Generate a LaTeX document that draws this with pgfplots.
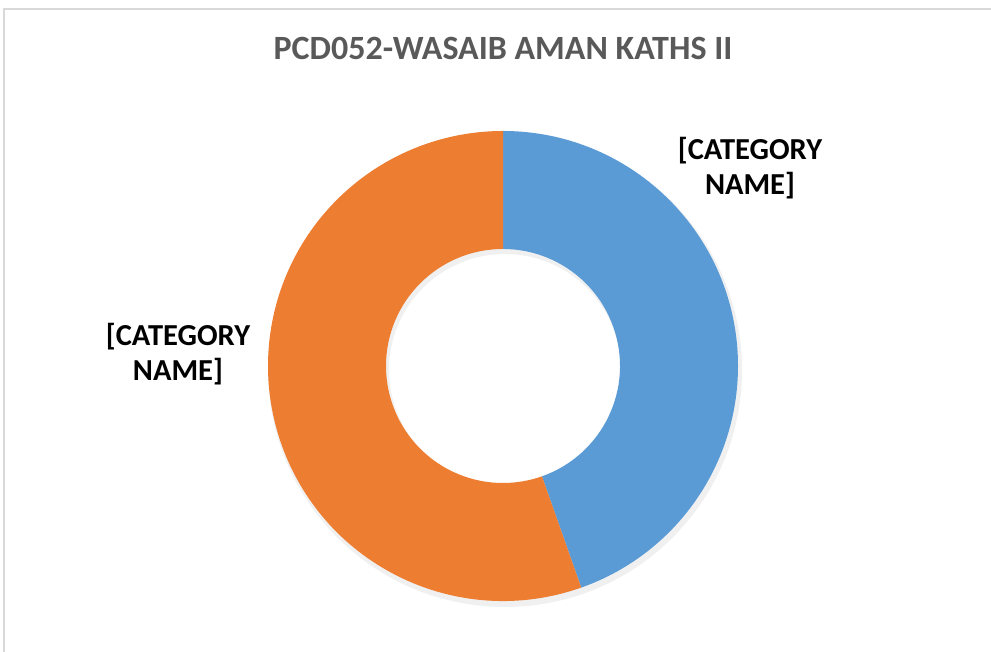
\documentclass[border=0pt]{standalone}
\usepackage{pgfplots}
\pgfplotsset{compat=1.18}
\usepackage{pgfplotstable}
\usepackage{fontspec}
\setmainfont{Carlito}
\definecolor{sliceblue}{HTML}{5B9BD5}
\definecolor{sliceorange}{HTML}{ED7D31}
\definecolor{titlegray}{HTML}{595959}
\definecolor{framegray}{HTML}{D9D9D9}

% share of each slice (percent), clockwise from 12 o'clock
\pgfplotstableread{
label value
A 44.6
B 55.4
}\donutdata

\begin{document}
\begin{tikzpicture}
\pgfplotstablegetelem{0}{value}\of\donutdata \let\va\pgfplotsretval
\def\cx{503}\def\cy{286}\def\Ro{235}\def\Ri{117}
\pgfmathsetmacro\aA{90}
\pgfmathsetmacro\aB{90-3.6*\va}
\pgfmathsetmacro\aC{-270}
\pgfmathsetmacro\xoA{\cx+\Ro*cos(\aA)}\pgfmathsetmacro\yoA{\cy+\Ro*sin(\aA)}
\pgfmathsetmacro\xiA{\cx+\Ri*cos(\aA)}\pgfmathsetmacro\yiA{\cy+\Ri*sin(\aA)}
\pgfmathsetmacro\xoB{\cx+\Ro*cos(\aB)}\pgfmathsetmacro\yoB{\cy+\Ro*sin(\aB)}
\pgfmathsetmacro\xiB{\cx+\Ri*cos(\aB)}\pgfmathsetmacro\yiB{\cy+\Ri*sin(\aB)}
\begin{axis}[
    width=991pt, height=652pt,
    scale only axis,
    xmin=0, xmax=991, ymin=0, ymax=652,
    hide axis,
    clip=true,
]
  % keep the whole canvas in the bounding box
  \path (axis cs:0,0) rectangle (axis cs:991,652);
  % frame
  \draw[framegray, line width=1.2pt] (axis cs:4,0) -- (axis cs:4,643) -- (axis cs:991,643);
  % faint shadow
  \fill[black, opacity=0.06, even odd rule]
    (axis cs:505,282) circle[radius=237pt]
    (axis cs:505,282) circle[radius=116pt];
  % blue slice
  \fill[sliceblue]
    (axis cs:\xoA,\yoA) arc[start angle=\aA, end angle=\aB, radius=\Ro pt]
    -- (axis cs:\xiB,\yiB) arc[start angle=\aB, end angle=\aA, radius=\Ri pt]
    -- cycle;
  % orange slice
  \fill[sliceorange]
    (axis cs:\xoB,\yoB) arc[start angle=\aB, end angle=\aC, radius=\Ro pt]
    -- (axis cs:\xiA,\yiA) arc[start angle=\aC, end angle=\aB, radius=\Ri pt]
    -- cycle;
  % title and labels
  \node[titlegray, font=\fontsize{34}{40}\selectfont\bfseries] at (axis cs:503,604) {PCD052-WASAIB AMAN KATHS II};
  \node[black, align=center, font=\fontsize{30.5}{35}\selectfont\bfseries] at (axis cs:750,484) {[CATEGORY\\NAME]};
  \node[black, align=center, font=\fontsize{30.5}{35}\selectfont\bfseries] at (axis cs:178,298) {[CATEGORY\\NAME]};
\end{axis}
\end{tikzpicture}
\end{document}
